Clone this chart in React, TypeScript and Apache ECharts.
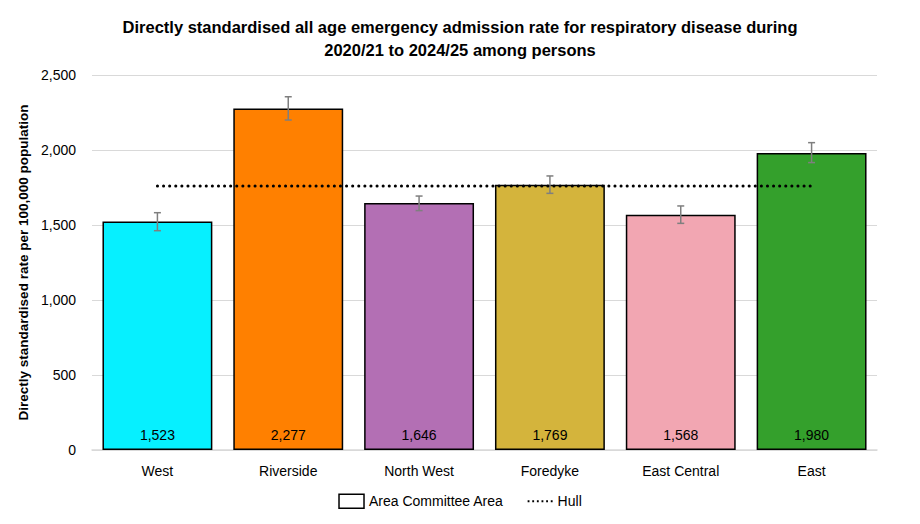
import { useEffect, useRef } from "react";
import * as echarts from "echarts";

const areas = ["West", "Riverside", "North West", "Foredyke", "East Central", "East"];
const rates = [1523, 2277, 1646, 1769, 1568, 1980];
const lowerCI = [1462, 2200, 1596, 1711, 1511, 1916];
const upperCI = [1582, 2355, 1693, 1827, 1627, 2049];
const hullRate = [1760, 1760, 1760, 1760, 1760, 1760];
const barColors = ["#06F0FF", "#FF8000", "#B36FB4", "#D4B43C", "#F2A6B2", "#34A02C"];

const FONT = "'Liberation Sans', Arial, sans-serif";
const DOTS_ICON =
  "path://M0,0h2v2h-2z M5,0h2v2h-2z M10,0h2v2h-2z M15,0h2v2h-2z M20,0h2v2h-2z M25,0h2v2h-2z";

export default function App() {
  const hostRef = useRef<HTMLDivElement>(null);

  useEffect(() => {
    const el = hostRef.current;
    if (!el) return;
    const chart = echarts.init(el, undefined, { renderer: "svg" });

    chart.setOption({
      animation: false,
      textStyle: { fontFamily: FONT, color: "#000" },
      title: {
        text: "Directly standardised all age emergency admission rate for respiratory disease during\n2020/21 to 2024/25 among persons",
        left: "center",
        top: 2,
        textStyle: { fontSize: 16.5, fontWeight: "bold", lineHeight: 23, fontFamily: FONT, color: "#000" },
      },
      grid: { left: 83, right: 35, top: 67, bottom: 66 },
      legend: {
        bottom: 2,
        left: "center",
        itemGap: 24,
        itemHeight: 14,
        textStyle: { fontSize: 14, fontFamily: FONT, color: "#000" },
        data: [
          {
            name: "Area Committee Area",
            icon: "rect",
            itemWidth: 34,
            itemStyle: { color: "#fff", borderColor: "#000", borderWidth: 1.5 },
          },
          {
            name: "Hull",
            icon: DOTS_ICON,
            itemWidth: 28,
            itemHeight: 3,
            itemStyle: { color: "#000", borderWidth: 0 },
          },
        ],
      },
      xAxis: {
        type: "category",
        data: areas,
        axisTick: { show: false },
        axisLine: { lineStyle: { color: "#d9d9d9", width: 1.5 } },
        axisLabel: { fontSize: 14, color: "#000", margin: 14, fontFamily: FONT },
      },
      yAxis: {
        type: "value",
        min: 0,
        max: 2500,
        interval: 500,
        name: "Directly standardised rate per 100,000 population",
        nameLocation: "middle",
        nameGap: 62,
        nameTextStyle: { fontSize: 13.5, fontWeight: "bold", color: "#000", fontFamily: FONT },
        axisLine: { show: false },
        axisTick: { show: false },
        splitLine: { lineStyle: { color: "#d9d9d9", width: 1 } },
        axisLabel: {
          fontSize: 14,
          color: "#000",
          margin: 16,
          fontFamily: FONT,
          formatter: (v: number) => v.toLocaleString("en-GB"),
        },
      },
      series: [
        {
          name: "Area Committee Area",
          type: "bar",
          barWidth: "84%",
          data: rates.map((v, i) => ({
            value: v,
            itemStyle: { color: barColors[i], borderColor: "#000", borderWidth: 1.5 },
          })),
          itemStyle: { color: "#fff", borderColor: "#000", borderWidth: 1.5 },
          label: {
            show: true,
            position: "insideBottom",
            distance: 8,
            fontSize: 14,
            color: "#000",
            fontFamily: FONT,
            formatter: (p: any) => Number(p.value).toLocaleString("en-GB"),
          },
          z: 2,
        },
        {
          name: "error",
          type: "custom",
          z: 4,
          data: areas.map((_, i) => [i, lowerCI[i], upperCI[i]]),
          renderItem: (params: any, api: any) => {
            const x = api.coord([api.value(0), 0])[0];
            const lo = api.coord([api.value(0), api.value(1)])[1];
            const hi = api.coord([api.value(0), api.value(2)])[1];
            const cap = 3.5;
            const style = { stroke: "#7f7f7f", lineWidth: 1.5 };
            return {
              type: "group",
              children: [
                { type: "line", shape: { x1: x, y1: lo, x2: x, y2: hi }, style },
                { type: "line", shape: { x1: x - cap, y1: lo, x2: x + cap, y2: lo }, style },
                { type: "line", shape: { x1: x - cap, y1: hi, x2: x + cap, y2: hi }, style },
              ],
            };
          },
        },
        {
          name: "Hull",
          type: "line",
          data: hullRate,
          symbol: "none",
          z: 5,
          itemStyle: { color: "#000" },
          lineStyle: { color: "#000", width: 3, type: [0.1, 6], cap: "round" },
        },
      ],
    });

    return () => chart.dispose();
  }, []);

  return <div ref={hostRef} style={{ width: 904, height: 508 }} />;
}
